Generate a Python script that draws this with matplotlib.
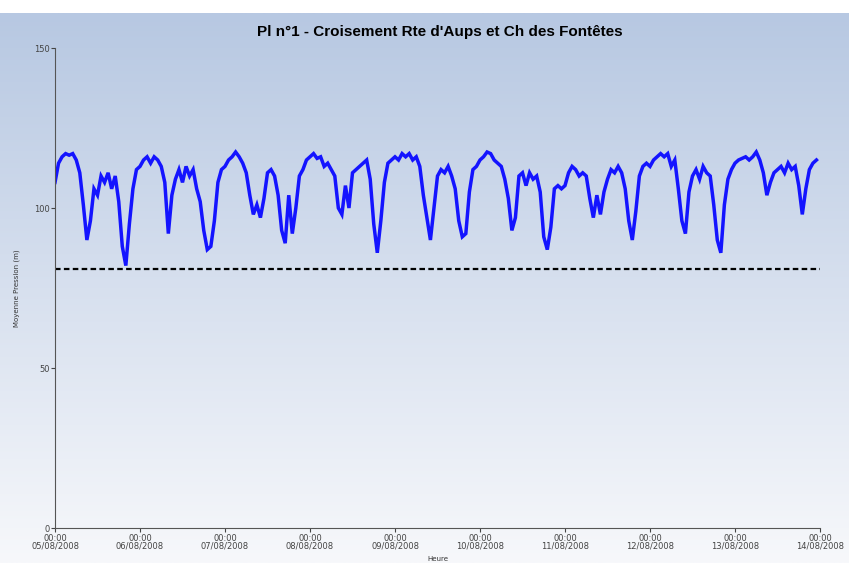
import numpy as np
import pandas as pd
import matplotlib
matplotlib.use('Agg')
import matplotlib.pyplot as plt
import matplotlib.dates as mdates

# Pression moyenne horaire (m), du 05/08/2008 00:00 au 13/08/2008 23:00
jour1 = [108, 114, 116, 117, 116.5, 117, 115, 111, 101, 90, 96, 106,
         104, 110, 108, 111, 106, 110, 102, 88, 82, 95, 106, 112]
jour2 = [113, 115, 116, 114, 116, 115, 113, 108, 92, 104, 109, 112,
         108, 113, 110, 112, 106, 102, 93, 87, 88, 96, 108, 112]
jour3 = [113, 115, 116, 117.5, 116, 114, 111, 104, 98, 101, 97, 103,
         111, 112, 110, 104, 93, 89, 104, 92, 100, 110, 112, 115]
jour4 = [116, 117, 115.5, 116, 113, 114, 112, 110, 100, 98, 107, 100,
         111, 112, 113, 114, 115, 109, 95, 86, 96, 108, 114, 115]
jour5 = [116, 115, 117, 116, 117, 115, 116, 113, 104, 97, 90, 100,
         110, 112, 111, 113, 110, 106, 96, 91, 92, 105, 112, 113]
jour6 = [115, 116, 117.5, 117, 115, 114, 113, 109, 103, 93, 97, 110,
         111, 107, 111, 109, 110, 105, 91, 87, 94, 106, 107, 106]
jour7 = [107, 111, 113, 112, 110, 111, 110, 103, 97, 104, 98, 105,
         109, 112, 111, 113, 111, 106, 96, 90, 99, 110, 113, 114]
jour8 = [113, 115, 116, 117, 116, 117, 113, 115, 106, 96, 92, 105,
         110, 112, 109, 113, 111, 110, 101, 90, 86, 101, 109, 112]
jour9 = [114, 115, 115.5, 116, 115, 116, 117.5, 115, 111, 104, 108, 111,
         112, 113, 111, 114, 112, 113, 107, 98, 106, 112, 114, 115]

seuil = 81  # pression minimale (ligne pointillee)

pression = jour1 + jour2 + jour3 + jour4 + jour5 + jour6 + jour7 + jour8 + jour9
heures = pd.date_range('2008-08-05 00:00', periods=len(pression), freq='h')

fig = plt.figure(figsize=(8.49, 5.63), dpi=100)

# Fond en degrade (bleu en haut, blanc en bas)
bg = fig.add_axes([0, 0, 1, 550 / 563])
grad = np.linspace(0, 1, 256).reshape(-1, 1)
haut = np.array([183, 200, 226]) / 255
bas = np.array([247, 248, 251]) / 255
img = haut * (1 - grad[..., None]) + bas * grad[..., None]
img = np.repeat(img, 2, axis=1)
bg.imshow(img, aspect='auto', extent=[0, 1, 0, 1])
bg.axis('off')

ax = fig.add_axes([55 / 849, 35 / 563, 765 / 849, 480 / 563])
ax.set_facecolor('none')

ax.plot(heures, pression, color='#1414ff', lw=2.5, solid_joinstyle='miter')
ax.axhline(seuil, color='black', ls=(0, (2.5, 1.5)), lw=1.6)

ax.set_ylim(0, 150)
ax.set_yticks([0, 50, 100, 150])
ax.set_xlim(pd.Timestamp('2008-08-05'), pd.Timestamp('2008-08-14'))
ax.xaxis.set_major_locator(mdates.DayLocator())
ax.xaxis.set_major_formatter(mdates.DateFormatter('%H:%M\n%d/%m/%Y'))

for s in ['top', 'right']:
    ax.spines[s].set_visible(False)
for s in ['left', 'bottom']:
    ax.spines[s].set_color('#555555')
ax.tick_params(labelsize=6, colors='#444444', length=3, width=0.8, pad=1)
for lab in ax.get_xticklabels():
    lab.set_linespacing(0.9)

ax.set_ylabel('Moyenne Pression (m)', fontsize=5, color='#333333', labelpad=10)
ax.set_xlabel('Heure', fontsize=5, color='#333333', labelpad=4)

fig.text(0.518, 1 - 32 / 563, "Pl n°1 - Croisement Rte d'Aups et Ch des Fontêtes",
         ha='center', va='center', fontsize=11, fontweight='bold',
         family=['Liberation Sans Narrow', 'Liberation Sans', 'DejaVu Sans'])

fig.savefig('out.png', dpi=100)
